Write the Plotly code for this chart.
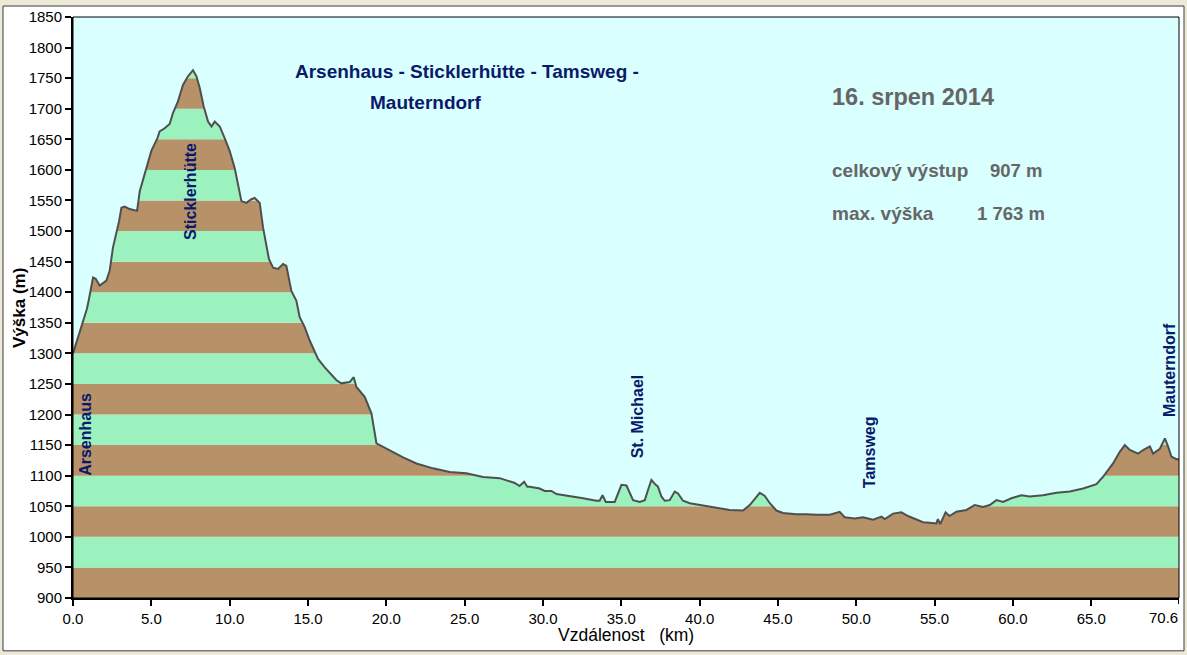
import plotly.graph_objects as go

# ---------------- data ----------------
distance_km = [
    0.00, 0.45, 0.89, 1.02, 1.28, 1.45, 1.70, 2.13, 2.34, 2.55,
    2.94, 3.09, 3.30, 3.62, 4.09, 4.26, 4.58, 4.79, 5.00, 5.39,
    5.53, 5.85, 6.17, 6.38, 6.70, 7.02, 7.34, 7.66, 7.88, 8.09,
    8.34, 8.62, 8.84, 9.05, 9.37, 9.68, 10.00, 10.32, 10.75, 11.07,
    11.39, 11.60, 11.92, 12.13, 12.30, 12.51, 12.77, 13.09, 13.41, 13.62,
    13.94, 14.26, 14.47, 14.79, 15.11, 15.64, 16.07, 16.82, 17.13, 17.66,
    17.92, 18.09, 18.62, 19.05, 19.37, 19.79, 20.43, 21.07, 21.92, 22.98,
    24.05, 25.11, 26.17, 27.24, 28.20, 28.50, 28.80, 29.00, 29.15, 29.79,
    30.11, 30.54, 30.86, 31.71, 32.56, 33.41, 33.62, 33.80, 34.01, 34.58,
    34.79, 35.01, 35.33, 35.54, 35.75, 36.18, 36.50, 36.71, 36.92, 37.20,
    37.34, 37.56, 37.77, 38.09, 38.41, 38.62, 38.94, 39.37, 40.22, 41.07,
    41.92, 42.77, 43.20, 43.84, 44.16, 44.48, 44.90, 45.32, 46.18, 46.82,
    47.46, 48.31, 48.94, 49.26, 49.90, 50.43, 51.07, 51.61, 51.82, 52.35,
    52.88, 53.30, 53.73, 54.26, 54.68, 55.11, 55.21, 55.36, 55.70, 55.95,
    56.39, 57.03, 57.56, 58.09, 58.52, 58.95, 59.37, 59.90, 60.54, 61.07,
    61.92, 62.78, 63.63, 64.48, 65.33, 65.75, 66.39, 66.82, 67.14, 67.46,
    67.99, 68.31, 68.74, 68.95, 69.38, 69.70, 69.91, 70.12, 70.44, 70.60,
]
elevation_m = [
    1300, 1338, 1373, 1389, 1424, 1422, 1411, 1419, 1435, 1473,
    1516, 1538, 1540, 1536, 1533, 1565, 1593, 1609, 1631, 1652,
    1663, 1668, 1675, 1693, 1712, 1739, 1753, 1763, 1753, 1734,
    1704, 1679, 1671, 1679, 1671, 1652, 1631, 1603, 1549, 1546,
    1552, 1554, 1546, 1506, 1484, 1454, 1440, 1438, 1446, 1443,
    1402, 1386, 1359, 1343, 1321, 1291, 1277, 1256, 1251, 1253,
    1261, 1245, 1229, 1202, 1153, 1147, 1139, 1130, 1120, 1112,
    1106, 1104, 1098, 1096, 1088, 1083, 1090, 1082, 1082, 1079,
    1075, 1075, 1070, 1067, 1063, 1059, 1059, 1068, 1057, 1057,
    1071, 1085, 1084, 1071, 1060, 1057, 1060, 1077, 1093, 1085,
    1082, 1066, 1059, 1060, 1074, 1071, 1059, 1055, 1051, 1047,
    1044, 1043, 1052, 1072, 1067, 1055, 1043, 1039, 1037, 1037,
    1036, 1036, 1041, 1032, 1030, 1032, 1028, 1033, 1029, 1038,
    1040, 1034, 1030, 1024, 1023, 1022, 1029, 1021, 1040, 1034,
    1041, 1044, 1052, 1049, 1052, 1060, 1057, 1063, 1068, 1066,
    1068, 1072, 1074, 1079, 1086, 1098, 1120, 1139, 1150, 1142,
    1136, 1142, 1148, 1136, 1144, 1161, 1147, 1131, 1127, 1127,
]

waypoint_names = ["Arsenhaus", "Sticklerhütte", "St. Michael", "Tamsweg", "Mauterndorf"]
waypoint_km = [0.75, 7.51, 36.0, 50.86, 70.0]

y_ticks = list(range(900, 1851, 50))
x_tick_vals = [0, 5, 10, 15, 20, 25, 30, 35, 40, 45, 50, 55, 60, 65]
x_tick_text = ["0.0", "5.0", "10.0", "15.0", "20.0", "25.0", "30.0", "35.0",
               "40.0", "45.0", "50.0", "55.0", "60.0", "65.0"]
x_end = 70.6
x_end_text = "70.6"

title_line1 = "Arsenhaus - Sticklerhütte - Tamsweg -"
title_line2 = "Mauterndorf"
date_text = "16. srpen 2014"
stat_labels = ["celkový výstup", "max. výška"]
stat_values = ["907 m", "1 763 m"]

# ---------------- style ----------------
Y_MIN, Y_MAX = 900, 1850
X_MIN, X_MAX = 0, x_end
BROWN = "#B79167"
GREEN = "#9CF2BE"
SKY = "#D9FFFF"
LINE = "#4F4F4F"
NAVY = "#0A1A6A"
GRAY = "#666666"
FONT = "Liberation Sans, Arial, sans-serif"

W, H = 1187, 655
ML, MR, MT, MB = 73, 8, 15, 57
PW, PH = W - ML - MR, H - MT - MB


def px_x(px):
    return (px - ML) / PW


def px_y(py):
    return (H - MB - py) / PH


fig = go.Figure()

# sky above profile: top boundary then profile filled to it
fig.add_trace(go.Scatter(x=[X_MIN, X_MAX], y=[Y_MAX, Y_MAX], mode="lines",
                         line=dict(width=0, color=SKY), hoverinfo="skip",
                         showlegend=False))
fig.add_trace(go.Scatter(x=distance_km, y=elevation_m, mode="lines",
                         fill="tonexty", fillcolor=SKY,
                         line=dict(color=LINE, width=2), hoverinfo="skip",
                         showlegend=False))

shapes = []
# outer frame panel
shapes.append(dict(type="rect", xref="paper", yref="paper",
                   x0=px_x(3), x1=px_x(1184), y0=px_y(651), y1=px_y(4),
                   fillcolor="white", line=dict(color="#3C3C3C", width=1),
                   layer="below"))
# elevation bands
for lo in range(Y_MIN, Y_MAX, 50):
    color = BROWN if ((lo - Y_MIN) // 50) % 2 == 0 else GREEN
    shapes.append(dict(type="rect", xref="x", yref="y", x0=X_MIN, x1=X_MAX,
                       y0=lo, y1=lo + 50, fillcolor=color,
                       line=dict(width=0), layer="below"))
# thin top/right border of plot area
shapes.append(dict(type="rect", xref="paper", yref="paper", x0=0, x1=1, y0=0, y1=1,
                   line=dict(color="black", width=1), layer="above"))
# final tick at 70.6
shapes.append(dict(type="line", xref="x", yref="paper", x0=x_end, x1=x_end,
                   y0=0, y1=px_y(604), line=dict(color="black", width=2)))

annotations = []
annotations.append(dict(xref="paper", yref="paper", x=px_x(467), y=px_y(70),
                        text="<b>%s</b>" % title_line1, showarrow=False,
                        font=dict(family=FONT, size=19, color=NAVY),
                        xanchor="center", yanchor="middle"))
annotations.append(dict(xref="paper", yref="paper", x=px_x(426), y=px_y(101),
                        text="<b>%s</b>" % title_line2, showarrow=False,
                        font=dict(family=FONT, size=19, color=NAVY),
                        xanchor="center", yanchor="middle"))
annotations.append(dict(xref="paper", yref="paper", x=px_x(831), y=px_y(95),
                        text="<b>%s</b>" % date_text, showarrow=False,
                        font=dict(family=FONT, size=23.5, color=GRAY),
                        xanchor="left", yanchor="middle", borderpad=0))
for lab, val, py, vx in zip(stat_labels, stat_values, [169, 212], [989, 976]):
    annotations.append(dict(xref="paper", yref="paper", x=px_x(831), y=px_y(py),
                            text="<b>%s</b>" % lab, showarrow=False,
                            font=dict(family=FONT, size=19, color=GRAY),
                            xanchor="left", yanchor="middle", borderpad=0))
    annotations.append(dict(xref="paper", yref="paper", x=px_x(vx), y=px_y(py),
                            text="<b>%s</b>" % val, showarrow=False,
                            font=dict(family=FONT, size=18.5, color=GRAY),
                            xanchor="left", yanchor="middle", borderpad=0))

label_y = [1168, 1565, 1197, 1138, 1272]
for name, km, ly in zip(waypoint_names, waypoint_km, label_y):
    annotations.append(dict(xref="x", yref="y", x=km, y=ly, text="<b>%s</b>" % name,
                            showarrow=False, textangle=-90,
                            font=dict(family=FONT, size=16, color=NAVY),
                            xanchor="center", yanchor="middle"))

# last x tick label, kept inside the frame as in the original
annotations.append(dict(xref="x", yref="paper", x=x_end, y=px_y(617.5),
                        text=x_end_text, showarrow=False,
                        font=dict(family=FONT, size=15, color="black"),
                        xanchor="right", yanchor="middle", borderpad=0))

# axis titles
annotations.append(dict(xref="paper", yref="paper", x=px_x(20), y=px_y(307),
                        text="<b>Výška (m)</b>", showarrow=False, textangle=-90,
                        font=dict(family=FONT, size=17, color="black"),
                        xanchor="center", yanchor="middle"))
annotations.append(dict(xref="paper", yref="paper", x=px_x(626), y=px_y(635),
                        text="Vzdálenost\u00a0\u00a0\u00a0(km)", showarrow=False,
                        font=dict(family=FONT, size=17.5, color="black"),
                        xanchor="center", yanchor="middle"))

fig.update_layout(
    width=W, height=H,
    margin=dict(l=ML, r=MR, t=MT, b=MB, pad=0),
    paper_bgcolor="#ECE9D8",
    plot_bgcolor=SKY,
    shapes=shapes,
    annotations=annotations,
    showlegend=False,
    xaxis=dict(range=[X_MIN, X_MAX], tickvals=x_tick_vals, ticktext=x_tick_text,
               showgrid=False, zeroline=False, showline=True, linecolor="black",
               linewidth=2, ticks="outside", ticklen=6, tickwidth=2,
               tickcolor="black", tickfont=dict(family=FONT, size=15, color="black"),
               fixedrange=True),
    yaxis=dict(range=[Y_MIN, Y_MAX], tickvals=y_ticks,
               showgrid=False, zeroline=False, showline=True, linecolor="black",
               linewidth=2, ticks="outside", ticklen=6, tickwidth=2,
               tickcolor="black", tickfont=dict(family=FONT, size=15, color="black"),
               fixedrange=True),
)

fig.write_html("out.html", config={"displayModeBar": False})
